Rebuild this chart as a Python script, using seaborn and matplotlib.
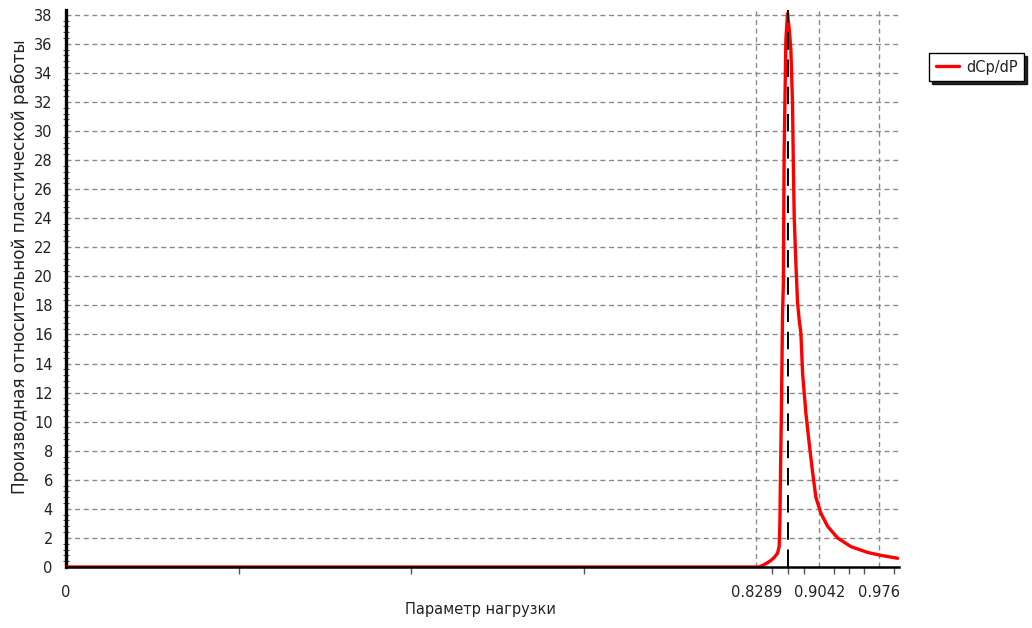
import matplotlib
matplotlib.use("Agg")
import matplotlib.pyplot as plt
import seaborn as sns
import pandas as pd
from matplotlib.ticker import FixedLocator, MultipleLocator

# ---- data ----
load_param = [0.0, 0.8321, 0.8377, 0.8422, 0.8462, 0.8501, 0.8542, 0.8561, 0.8570,
              0.8576, 0.8590, 0.8602, 0.8612, 0.8621, 0.8642, 0.8662, 0.8681, 0.8702,
              0.8722, 0.8732, 0.8742, 0.8762, 0.8782, 0.8802, 0.8822, 0.8843, 0.8882,
              0.8922, 0.8963, 0.9002, 0.9062, 0.9143, 0.9263, 0.9423, 0.9624, 0.9784,
              0.9984]
dcp_dp = [0.0, 0.0, 0.15, 0.3, 0.45, 0.65, 0.95, 1.4, 3.0,
          5.8, 11.5, 17.5, 19.5, 28.5, 36.3, 38.1, 37.1, 35.6,
          31.8, 27.5, 24.1, 20.9, 18.2, 17.0, 16.1, 13.3, 10.6,
          8.5, 6.5, 4.8, 3.7, 2.8, 2.0, 1.4, 1.0, 0.8,
          0.6]
series_name = "dCp/dP"
x_tick_values = [0, 0.8289, 0.9042, 0.976]
x_tick_labels = ["0", "0.8289", "0.9042", "0.976"]
peak_marker = 0.8665
x_label = "Параметр нагрузки"
y_label = "Производная относительной пластической работы"

df = pd.DataFrame({"x": load_param, "y": dcp_dp, "series": series_name})

sns.set_style("white")
plt.rcParams["font.family"] = ["DejaVu Sans"]

fig = plt.figure(figsize=(10.32, 6.28), dpi=100)
ax = fig.add_axes([66 / 1032, 1 - 567 / 628, (899 - 66) / 1032, (567 - 10) / 628])

sns.lineplot(data=df, x="x", y="y", hue="series", palette=["#ff0000"],
             estimator=None, linewidth=2.4, ax=ax, zorder=5, legend=True)

ax.set_xlim(0, 1.0)
ax.set_ylim(0, 38.33)

# ticks
ax.set_yticks(range(0, 39, 2))
ax.yaxis.set_minor_locator(MultipleLocator(0.4))
ax.set_xticks(x_tick_values)
ax.set_xticklabels(x_tick_labels)
minor_x = []
for a, b in zip(x_tick_values[:-1], x_tick_values[1:]):
    minor_x += [a + (b - a) * k / 4 for k in (1, 2, 3)]
minor_x.append(x_tick_values[-1] + (x_tick_values[-1] - x_tick_values[-2]) / 4)
ax.xaxis.set_minor_locator(FixedLocator(minor_x))

# grid
for yv in range(2, 39, 2):
    ax.axhline(yv, color="#8a8a8a", lw=1.0, dashes=(3.6, 2.6), zorder=1)
for xv in x_tick_values[1:]:
    ax.axvline(xv, color="#8a8a8a", lw=1.0, dashes=(3.6, 2.6), zorder=1)

ax.axvline(peak_marker, color="black", lw=1.4, dashes=(9, 5), zorder=6)

for s in ("top", "right"):
    ax.spines[s].set_visible(False)
ax.spines["left"].set_linewidth(2.4)
ax.spines["bottom"].set_linewidth(1.8)
ax.spines["left"].set_color("black")
ax.spines["bottom"].set_color("black")
ax.spines["bottom"].set_zorder(6)

ax.tick_params(axis="y", which="major", direction="inout", length=7, width=1.0,
               color="#555555", labelsize=10.5, labelcolor="#222222", pad=6)
ax.tick_params(axis="y", which="minor", direction="inout", length=4, width=0.8,
               color="#555555", left=True)
ax.tick_params(axis="x", which="major", direction="out", length=5, width=1.0,
               color="#555555", labelsize=10.5, labelcolor="#222222", pad=8)
ax.tick_params(axis="x", which="minor", direction="out", length=5, width=1.0,
               color="#555555", bottom=True)

ax.set_xlabel(x_label, fontsize=10.5, color="#222222")
ax.set_ylabel(y_label, fontsize=12.2, color="#222222")
ax.xaxis.set_label_coords(0.498, -0.063)
ax.yaxis.set_label_coords(-0.045, 0.54)

handles, labels = ax.get_legend_handles_labels()
leg = ax.legend(handles, labels, loc="upper left", bbox_to_anchor=(929 / 1032, 1 - 53 / 628),
                bbox_transform=fig.transFigure, borderaxespad=0, frameon=True,
                fancybox=False, shadow={"color": "black", "alpha": 0.85},
                fontsize=10.5, handlelength=1.6, handletextpad=0.5,
                borderpad=0.45)
leg.get_frame().set_edgecolor("black")
leg.get_frame().set_linewidth(1.0)
for t in leg.get_texts():
    t.set_color("#222222")

fig.savefig("out.png", dpi=100)
